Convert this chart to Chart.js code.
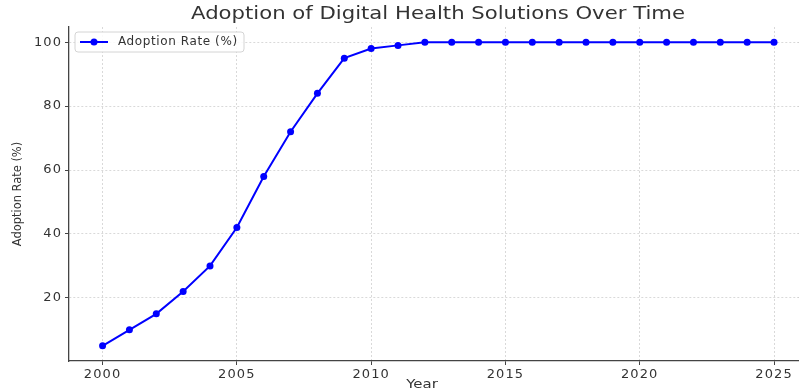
<!DOCTYPE html>
<html>
<head>
<meta charset="utf-8">
<script src="https://cdn.jsdelivr.net/npm/chart.js@4/dist/chart.umd.min.js"></script>
<style>
  html, body { margin: 0; padding: 0; background: #fff; }
  #wrap { width: 799px; height: 391px; }
</style>
</head>
<body>
<div id="wrap"><canvas id="c" width="799" height="391"></canvas></div>
<script>
// Adoption of digital health solutions, yearly
const years = [2000, 2001, 2002, 2003, 2004, 2005, 2006, 2007, 2008, 2009, 2010, 2011, 2012,
               2013, 2014, 2015, 2016, 2017, 2018, 2019, 2020, 2021, 2022, 2023, 2024, 2025];
const adoptionRate = [5, 10, 15, 22, 30, 42, 58, 72, 84, 95, 98, 99, 100,
                      100, 100, 100, 100, 100, 100, 100, 100, 100, 100, 100, 100, 100];
const chartTitle = 'Adoption of Digital Health Solutions Over Time';
const xTitle = 'Year';
const yTitle = 'Adoption Rate (%)';
const seriesLabel = 'Adoption Rate (%)';

const FONT = "'DejaVu Sans', sans-serif";
const LINE_BLUE = '#0000ff';

// draws text stretched horizontally by sx around (x, y)
function wideText(ctx, text, x, y, sx) {
  ctx.save();
  ctx.translate(x, y);
  ctx.scale(sx, 1);
  ctx.fillText(text, 0, 0);
  ctx.restore();
}

// Wider tick-label spacing, titles and an in-plot legend box
const decorations = {
  id: 'decorations',
  beforeDraw(chart) {
    chart.ctx.letterSpacing = '1.1px';
  },
  afterDraw(chart) {
    const ctx = chart.ctx;
    const a = chart.chartArea;
    ctx.save();
    ctx.letterSpacing = '0px';
    ctx.fillStyle = '#333';
    ctx.textAlign = 'center';
    ctx.textBaseline = 'middle';
    // chart title
    ctx.font = '17px ' + FONT;
    wideText(ctx, chartTitle, 438, 15, 494 / ctx.measureText(chartTitle).width);
    // x title
    ctx.font = '13px ' + FONT;
    wideText(ctx, xTitle, 422, 385, 1.15);
    // y title (rotated)
    ctx.save();
    ctx.translate(18, 194);
    ctx.rotate(-Math.PI / 2);
    ctx.font = '13px ' + FONT;
    ctx.scale(0.88, 1);
    ctx.fillText(yTitle, 0, 0);
    ctx.restore();

    // legend frame
    const lx = a.left + 6, ly = a.top + 5, lw = 169, lh = 20, r = 3;
    ctx.beginPath();
    ctx.moveTo(lx + r, ly);
    ctx.arcTo(lx + lw, ly, lx + lw, ly + lh, r);
    ctx.arcTo(lx + lw, ly + lh, lx, ly + lh, r);
    ctx.arcTo(lx, ly + lh, lx, ly, r);
    ctx.arcTo(lx, ly, lx + lw, ly, r);
    ctx.closePath();
    ctx.fillStyle = 'rgba(255,255,255,0.85)';
    ctx.fill();
    ctx.strokeStyle = '#d4d4d4';
    ctx.lineWidth = 1;
    ctx.stroke();
    // legend sample
    const cy = ly + lh / 2;
    ctx.strokeStyle = LINE_BLUE;
    ctx.lineWidth = 2;
    ctx.beginPath();
    ctx.moveTo(lx + 5, cy);
    ctx.lineTo(lx + 33, cy);
    ctx.stroke();
    ctx.fillStyle = LINE_BLUE;
    ctx.beginPath();
    ctx.arc(lx + 19, cy, 3.5, 0, Math.PI * 2);
    ctx.fill();
    // legend text
    ctx.fillStyle = '#333';
    ctx.font = '12px ' + FONT;
    ctx.textAlign = 'left';
    ctx.letterSpacing = '0.6px';
    ctx.fillText(seriesLabel, lx + 43, cy);
    ctx.restore();
  }
};

new Chart(document.getElementById('c'), {
  type: 'line',
  data: {
    datasets: [{
      label: seriesLabel,
      data: years.map((y, i) => ({ x: y, y: adoptionRate[i] })),
      borderColor: LINE_BLUE,
      backgroundColor: LINE_BLUE,
      borderWidth: 2,
      pointRadius: 3.5,
      pointHoverRadius: 3.5,
      pointBorderWidth: 0,
      tension: 0,
      clip: false
    }]
  },
  options: {
    responsive: false,
    animation: false,
    devicePixelRatio: 1,
    layout: { autoPadding: false, padding: { top: 27, left: 0, right: 0, bottom: 0 } },
    plugins: {
      legend: { display: false },
      title: { display: false },
      tooltip: { enabled: false }
    },
    scales: {
      x: {
        type: 'linear',
        min: 1998.75,
        max: 2025.93,
        afterFit(scale) {
          scale.height = 30;
          scale.paddingLeft = 0;
          scale.paddingRight = 0;
        },
        ticks: {
          stepSize: 5,
          includeBounds: false,
          autoSkip: false,
          maxRotation: 0,
          padding: 2,
          color: '#333',
          font: { family: FONT, size: 13 },
          callback: v => String(v)
        },
        grid: {
          color: '#d0d0d0',
          lineWidth: 0.8,
          drawTicks: true,
          tickLength: 4,
          tickColor: '#444',
          tickWidth: 1
        },
        border: { display: true, color: '#444', width: 1.3, dash: [2, 2] }
      },
      y: {
        type: 'linear',
        min: 0.25,
        max: 104.75,
        afterFit(scale) {
          scale.width = 69;
          scale.paddingTop = 0;
          scale.paddingBottom = 0;
        },
        ticks: {
          stepSize: 20,
          includeBounds: false,
          padding: 3,
          color: '#333',
          font: { family: FONT, size: 13 }
        },
        grid: {
          color: '#d0d0d0',
          lineWidth: 0.8,
          drawTicks: true,
          tickLength: 4,
          tickColor: '#444',
          tickWidth: 1
        },
        border: { display: true, color: '#444', width: 1.3, dash: [2, 2] }
      }
    }
  },
  plugins: [decorations]
});
</script>
</body>
</html>
